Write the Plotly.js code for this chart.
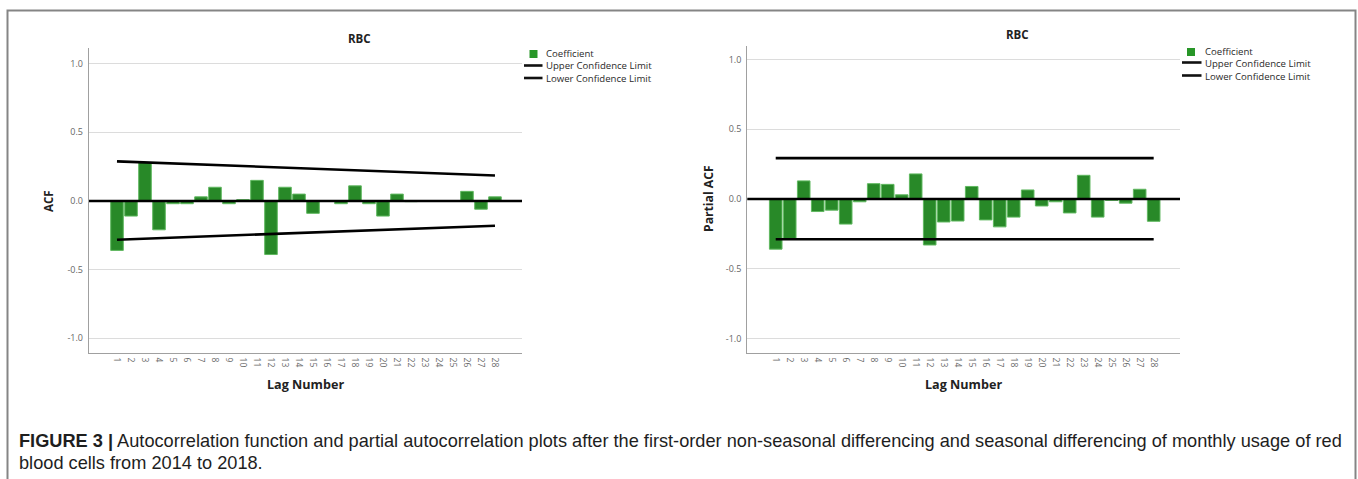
<!DOCTYPE html>
<html><head><meta charset="utf-8">
<script src="https://cdn.plot.ly/plotly-3.0.1.min.js"></script>
<style>body{margin:0;background:#fff}#chart{width:1358px;height:479px}</style>
</head><body><div id="chart"></div>
<script>
// ---- data ----
const lags = [1,2,3,4,5,6,7,8,9,10,11,12,13,14,15,16,17,18,19,20,21,22,23,24,25,26,27,28];
const lagLabels = lags.map(String);
const acf = [-0.36,-0.11,0.28,-0.21,-0.02,-0.02,0.03,0.10,-0.02,0.01,0.15,-0.39,0.10,0.05,-0.09,0.00,-0.02,0.11,-0.02,-0.11,0.05,-0.005,0.00,0.00,0.00,0.07,-0.06,0.03];
const pacf = [-0.36,-0.29,0.13,-0.09,-0.08,-0.18,-0.02,0.11,0.105,0.03,0.18,-0.33,-0.165,-0.158,0.09,-0.15,-0.20,-0.13,0.065,-0.05,-0.02,-0.10,0.17,-0.13,-0.01,-0.03,0.07,-0.16];
const limitLags = [1,28];
const acfUpper = [0.288,0.186];
const acfLower = [-0.282,-0.18];
const pacfUpper = [0.293,0.293];
const pacfLower = [-0.289,-0.289];
const yTickVals = [-1,-0.5,0,0.5,1];
const yTickText = ['-1.0','-0.5','0.0','0.5','1.0'];
const chartTitle = 'RBC';
const legendNames = ['Coefficient','Upper Confidence Limit','Lower Confidence Limit'];

// ---- styles ----
const W = 1358, H = 479;
const px = x => x / W;
const py = y => 1 - y / H;
const barFill = 'rgb(40,137,40)';
const barEdge = 'rgb(96,184,96)';
const FONT = 'Open Sans, DejaVu Sans, sans-serif';

function bars(y, xa, ya) {
  return {type:'bar', x:lags, y:y, xaxis:xa, yaxis:ya, name:legendNames[0], showlegend:false,
    marker:{color:barFill, line:{color:barEdge, width:1}}, hoverinfo:'x+y'};
}
function limit(y, xa, ya, name) {
  return {type:'scatter', mode:'lines', x:limitLags, y:y, xaxis:xa, yaxis:ya, name:name, showlegend:false,
    line:{color:'#000', width:2.6}, hoverinfo:'x+y'};
}
const data = [
  bars(acf,'x','y'), limit(acfUpper,'x','y',legendNames[1]), limit(acfLower,'x','y',legendNames[2]),
  bars(pacf,'x2','y2'), limit(pacfUpper,'x2','y2',legendNames[1]), limit(pacfLower,'x2','y2',legendNames[2])
];

function xAxis(d0, d1, anchor) {
  return {domain:[px(d0), px(d1)], range:[-1, 29.93], anchor:anchor, tickvals:lags, ticktext:lagLabels,
    tickangle:90, tickfont:{size:8.5, color:'#6a6a6a', family:FONT}, showline:true, linecolor:'#a0a0a0', linewidth:1.2,
    showgrid:false, zeroline:false, ticks:'', ticklabelstandoff:2, fixedrange:true};
}
function yAxis(top, bottom, r, anchor) {
  return {domain:[py(bottom), py(top)], range:r, anchor:anchor, tickvals:yTickVals, ticktext:yTickText,
    tickfont:{size:9, color:'#666', family:FONT}, showline:true, linecolor:'#a0a0a0', linewidth:1.2,
    showgrid:true, gridcolor:'#dcdcdc', gridwidth:1, zeroline:false, ticks:'', ticklabelstandoff:3, fixedrange:true};
}

const shapes = [
  // figure border
  {type:'rect', xref:'paper', yref:'paper', x0:px(7.5), x1:px(1355.5), y0:py(10.5), y1:py(520), line:{color:'#858585', width:2}, layer:'below'},
  // zero lines
  {type:'line', xref:'x domain', yref:'y', x0:0, x1:1, y0:0, y1:0, line:{color:'#000', width:2.4}},
  {type:'line', xref:'x2 domain', yref:'y2', x0:0, x1:1, y0:0, y1:0, line:{color:'#000', width:2.4}},
];
const annotations = [];
function txt(x, y, text, opts) {
  annotations.push(Object.assign({xref:'paper', yref:'paper', x:px(x), y:py(y), text:text, showarrow:false,
    xanchor:'center', yanchor:'middle', font:{family:FONT, size:10, color:'#2a2a2a'}}, opts||{}));
}
// legends (one text block per legend so the three rows sit at the reference spacing)
function legend(sqX, sqY, lineX0, lineX1, textX, y1, y2, y3) {
  shapes.push({type:'rect', xref:'paper', yref:'paper', x0:px(sqX), x1:px(sqX+8), y0:py(sqY+8), y1:py(sqY), fillcolor:'rgb(40,150,40)', line:{width:0}});
  shapes.push({type:'line', xref:'paper', yref:'paper', x0:px(lineX0), x1:px(lineX1), y0:py(y2), y1:py(y2), line:{color:'#111', width:2.6}});
  shapes.push({type:'line', xref:'paper', yref:'paper', x0:px(lineX0), x1:px(lineX1), y0:py(y3), y1:py(y3), line:{color:'#111', width:2.6}});
  txt(textX, (y1 + y3) / 2, legendNames.join('<br>'), {xanchor:'left', align:'left', borderpad:0,
    font:{family:FONT, size:9.6, color:'#2a2a2a'}});
}
legend(529.5, 50, 524, 542.5, 545, 53.5, 65.5, 78);
legend(1187, 48, 1182, 1201.5, 1203.5, 51.5, 62.5, 75.5);

// titles
txt(359, 38, '<b>' + chartTitle + '</b>', {font:{family:FONT, size:11.5, color:'#222'}});
txt(1017, 35, '<b>' + chartTitle + '</b>', {font:{family:FONT, size:11.5, color:'#222'}});
txt(305, 384, '<b>Lag Number</b>', {font:{family:FONT, size:12.6, color:'#222'}});
txt(963, 384, '<b>Lag Number</b>', {font:{family:FONT, size:12.6, color:'#222'}});
txt(48, 201, '<b>ACF</b>', {textangle:-90, font:{family:FONT, size:11.5, color:'#222'}});
txt(708, 199, '<b>Partial ACF</b>', {textangle:-90, font:{family:FONT, size:12.2, color:'#222'}});
// caption
const CAP = 'Liberation Sans, Arial, sans-serif';
txt(17, 441, '<b>FIGURE 3 |</b> Autocorrelation function and partial autocorrelation plots after the first-order non-seasonal differencing and seasonal differencing of monthly usage of red',
  {xanchor:'left', font:{family:CAP, size:18.2, color:'#1e1e1e'}});
txt(17, 463, 'blood cells from 2014 to 2018.', {xanchor:'left', font:{family:CAP, size:18.2, color:'#1e1e1e'}});

const layout = {
  width:W, height:H, margin:{l:0, r:0, t:0, b:0}, paper_bgcolor:'#fff', plot_bgcolor:'#fff',
  showlegend:false, bargap:0.1,
  xaxis: xAxis(89, 522, 'y'),
  yaxis: yAxis(48, 352.7, [-1.105, 1.114], 'x'),
  xaxis2: xAxis(747.3, 1180, 'y2'),
  yaxis2: yAxis(46, 352.7, [-1.103, 1.098], 'x2'),
  shapes: shapes, annotations: annotations
};
layout.xaxis2.range = [-1.03, 29.88];
Plotly.newPlot('chart', data, layout, {displayModeBar:false, staticPlot:true});
</script></body></html>
